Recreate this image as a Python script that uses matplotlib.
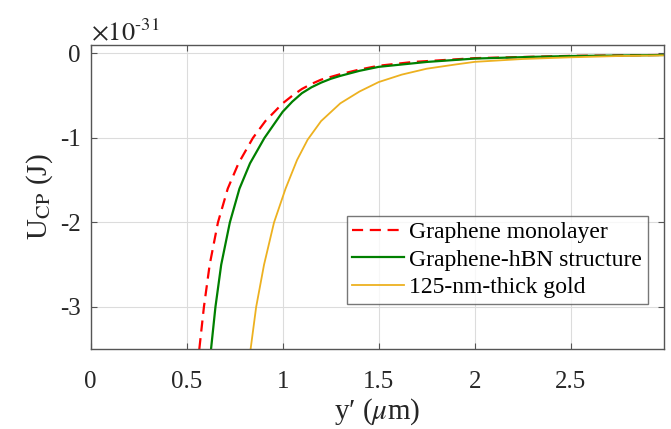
import matplotlib
matplotlib.use("Agg")
import matplotlib.pyplot as plt

# values (y in units of 1e-31 J)
x_mono = [0.566, 0.590, 0.620, 0.663, 0.714, 0.770, 0.845, 0.910, 1.0, 1.05, 1.10, 1.15,
          1.20, 1.30, 1.40, 1.50, 1.68, 2.0, 2.5, 2.98]
u_mono = [-3.5, -3.0, -2.5, -2.0, -1.6, -1.3, -1.0, -0.8, -0.59, -0.5, -0.42, -0.36,
          -0.31, -0.245, -0.19, -0.145, -0.1, -0.055, -0.028, -0.017]

x_hbn = [0.627, 0.650, 0.680, 0.725, 0.775, 0.830, 0.905, 1.0, 1.05, 1.10, 1.15, 1.20,
         1.25, 1.30, 1.40, 1.50, 1.75, 2.0, 2.3, 2.5, 2.98]
u_hbn = [-3.5, -3.0, -2.5, -2.0, -1.6, -1.3, -1.0, -0.69, -0.57, -0.47, -0.4, -0.345,
         -0.3, -0.265, -0.205, -0.158, -0.1, -0.06, -0.04, -0.03, -0.018]

x_gold = [0.833, 0.862, 0.903, 0.955, 1.015, 1.075, 1.13, 1.20, 1.30, 1.40, 1.50,
          1.62, 1.75, 1.90, 2.0, 2.25, 2.5, 2.75, 2.98]
u_gold = [-3.5, -3.0, -2.5, -2.0, -1.6, -1.26, -1.02, -0.8, -0.59, -0.45, -0.338,
          -0.25, -0.18, -0.13, -0.099, -0.065, -0.045, -0.03, -0.022]

labels = ["Graphene monolayer", "Graphene-hBN structure", "125-nm-thick gold"]

plt.rcParams['font.family'] = ['Liberation Serif', 'DejaVu Serif']
plt.rcParams['mathtext.fontset'] = 'stix'
plt.rcParams['axes.unicode_minus'] = False

fig = plt.figure(figsize=(6.71, 4.29), dpi=100)
ax = fig.add_axes([0.135, 0.186, 0.8545, 0.709])

ax.plot(x_mono, u_mono, color='#ff0000', lw=1.6, ls=(0, (5, 3)), label=labels[0])
ax.plot(x_hbn, u_hbn, color='#008000', lw=1.6, label=labels[1])
ax.plot(x_gold, u_gold, color='#edb120', lw=1.3, label=labels[2])

ax.set_xlim(0, 2.985)
ax.set_ylim(-3.5, 0.1)
ax.set_xticks([0, 0.5, 1, 1.5, 2, 2.5])
ax.set_xticklabels(['0', '0.5', '1', '1.5', '2', '2.5'])
ax.set_yticks([-3, -2, -1, 0])
ax.set_yticklabels(['-3', '-2', '-1', '0'])

ax.grid(True, color='#dcdcdc', lw=0.8)
ax.set_axisbelow(True)
for s in ax.spines.values():
    s.set_color('#555555')
    s.set_linewidth(1.0)
ax.tick_params(direction='in', top=True, right=True, length=4, color='#555555',
               labelsize=18, labelcolor='#262626')
ax.tick_params(axis='x', pad=16)
ax.tick_params(axis='y', pad=7)

ax.set_xlabel("y\u2032 ($\\mu$m)", fontsize=21, color='#262626', labelpad=2)
ax.set_ylabel(r"U$_{\mathrm{CP}}$ (J)", fontsize=21, color='#262626', labelpad=4)
ax.text(0.0, 1.0, r"$\times10^{\text{-}31}$", transform=ax.transAxes, fontsize=19,
        color='#262626', ha='left', va='bottom')

leg = ax.legend(loc='lower right', bbox_to_anchor=(0.972, 0.149), fontsize=17,
                frameon=True, fancybox=False, handlelength=2.2, borderpad=0.25,
                labelspacing=0.25, handletextpad=0.2, borderaxespad=0)
leg.get_frame().set_edgecolor('#555555')
leg.get_frame().set_linewidth(1.0)

fig.savefig("out.png", dpi=100)
